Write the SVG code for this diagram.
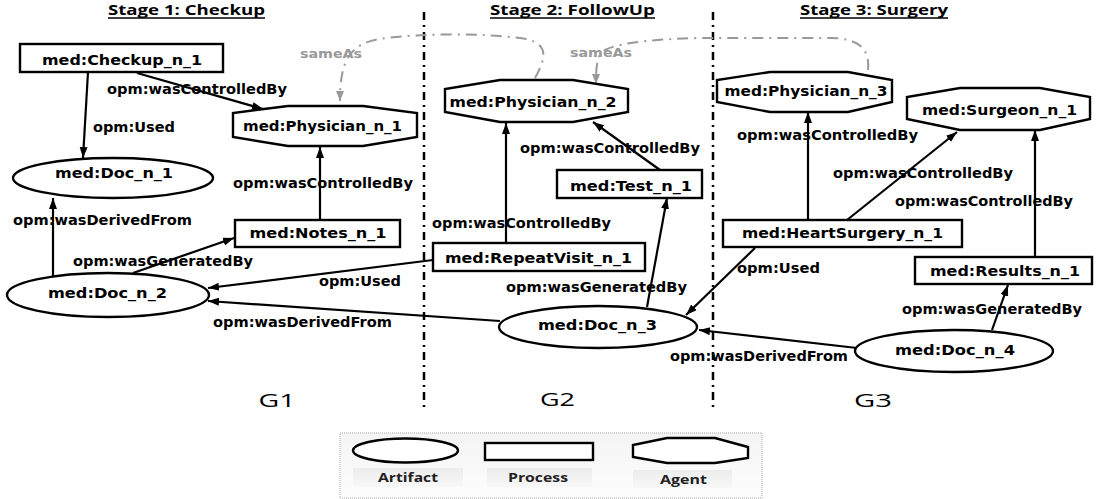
<svg xmlns="http://www.w3.org/2000/svg" width="1096" height="499" viewBox="0 0 1096 499">
<style>
.bg{fill:#ffffff}
.node{fill:#ffffff;stroke:#000;stroke-width:2.4}
.nl{font-family:"DejaVu Sans",Verdana,sans-serif;font-weight:bold;font-size:14.5px;fill:#000;text-anchor:middle}
.el{font-family:"DejaVu Sans",Verdana,sans-serif;font-weight:bold;font-size:13.5px;fill:#000;text-anchor:middle}
.sl{font-family:"DejaVu Sans",Verdana,sans-serif;font-weight:bold;font-size:13px;fill:#999;text-anchor:middle}
.tt{font-family:"Open Sans","Liberation Sans",sans-serif;font-weight:bold;font-size:15px;fill:#000;text-anchor:middle}
.gl{font-family:"Open Sans","Liberation Sans",sans-serif;font-size:19px;fill:#000;text-anchor:middle}
.lg{font-family:"Open Sans","Liberation Sans",sans-serif;font-weight:bold;font-size:13px;fill:#222;text-anchor:middle}
.edge{fill:none;stroke:#000;stroke-width:2.2;marker-end:url(#ah)}
.same{fill:none;stroke:#999;stroke-width:2;stroke-dasharray:11 6 2 6;marker-end:url(#gh)}
.div{stroke:#000;stroke-width:2.5;stroke-dasharray:8 5 2 5}
.ul{stroke:#000;stroke-width:1.3}
</style>
<defs>
<marker id="ah" markerUnits="userSpaceOnUse" markerWidth="12" markerHeight="10" refX="11" refY="4" orient="auto">
<path d="M0,0 L11,4 L0,8 z" fill="#000"/>
</marker>
<marker id="gh" markerUnits="userSpaceOnUse" markerWidth="12" markerHeight="10" refX="10" refY="4" orient="auto">
<path d="M0,0 L10,4 L0,8 z" fill="#999"/>
</marker>
<linearGradient id="lgbg" x1="0" y1="0" x2="0" y2="1">
<stop offset="0" stop-color="#f4f4f4"/>
<stop offset="1" stop-color="#fdfdfd"/>
</linearGradient>
<linearGradient id="lbbg" x1="0" y1="0" x2="0" y2="1">
<stop offset="0" stop-color="#ececec"/>
<stop offset="1" stop-color="#f8f8f8"/>
</linearGradient>
</defs>
<rect class="bg" x="0" y="0" width="1096" height="499"/>

<g id="titles">
<text class="tt" x="186.5" y="15" textLength="157" lengthAdjust="spacingAndGlyphs">Stage 1: Checkup</text>
<line class="ul" x1="108" y1="18" x2="265" y2="18"/>
<text class="tt" x="572.5" y="15" textLength="165" lengthAdjust="spacingAndGlyphs">Stage 2: FollowUp</text>
<line class="ul" x1="490" y1="18" x2="655" y2="18"/>
<text class="tt" x="874" y="15" textLength="148" lengthAdjust="spacingAndGlyphs">Stage 3: Surgery</text>
<line class="ul" x1="800" y1="18" x2="948" y2="18"/>
</g>

<g id="dividers">
<line class="div" x1="424" y1="12" x2="424" y2="407"/>
<line class="div" x1="713" y1="12" x2="713" y2="407"/>
</g>

<g id="connectors">
<line class="edge" x1="137" y1="73" x2="263" y2="109"/>
<line class="edge" x1="88" y1="72" x2="83" y2="158"/>
<line class="edge" x1="320" y1="220" x2="320" y2="147"/>
<line class="edge" x1="53" y1="277" x2="53" y2="198"/>
<line class="edge" x1="133" y1="273" x2="234" y2="238"/>
<line class="edge" x1="433" y1="260" x2="208" y2="288"/>
<line class="edge" x1="500" y1="321" x2="208" y2="301"/>
<line class="edge" x1="506" y1="243" x2="506" y2="123"/>
<line class="edge" x1="660" y1="170" x2="593" y2="122"/>
<line class="edge" x1="647" y1="307" x2="667" y2="198"/>
<line class="edge" x1="808" y1="220" x2="808" y2="112"/>
<line class="edge" x1="847" y1="220" x2="957" y2="132"/>
<line class="edge" x1="1035" y1="257" x2="1035" y2="130"/>
<line class="edge" x1="755" y1="248" x2="686" y2="315"/>
<line class="edge" x1="857" y1="348" x2="699" y2="330"/>
<line class="edge" x1="992" y1="330" x2="1008" y2="285"/>
<path class="same" d="M535,78 C545,60 552,42 520,38 C480,33 420,33 380,39 C350,44 340,60 340,101"/>
<path class="same" d="M868,70 C870,50 860,38 830,38 L700,38 C660,39 620,42 605,50 C597,55 596,65 596,84"/>
<text class="el" x="197" y="94" textLength="180" lengthAdjust="spacingAndGlyphs">opm:wasControlledBy</text>
<text class="el" x="134" y="132" textLength="82" lengthAdjust="spacingAndGlyphs">opm:Used</text>
<text class="el" x="323" y="188" textLength="180" lengthAdjust="spacingAndGlyphs">opm:wasControlledBy</text>
<text class="el" x="102.5" y="225" textLength="179" lengthAdjust="spacingAndGlyphs">opm:wasDerivedFrom</text>
<text class="el" x="163" y="266" textLength="180" lengthAdjust="spacingAndGlyphs">opm:wasGeneratedBy</text>
<text class="el" x="360" y="286" textLength="82" lengthAdjust="spacingAndGlyphs">opm:Used</text>
<text class="el" x="302.5" y="327" textLength="179" lengthAdjust="spacingAndGlyphs">opm:wasDerivedFrom</text>
<text class="el" x="521.5" y="228" textLength="179" lengthAdjust="spacingAndGlyphs">opm:wasControlledBy</text>
<text class="el" x="610" y="153" textLength="180" lengthAdjust="spacingAndGlyphs">opm:wasControlledBy</text>
<text class="el" x="596.5" y="292" textLength="181" lengthAdjust="spacingAndGlyphs">opm:wasGeneratedBy</text>
<text class="el" x="827.5" y="140" textLength="181" lengthAdjust="spacingAndGlyphs">opm:wasControlledBy</text>
<text class="el" x="923" y="178" textLength="180" lengthAdjust="spacingAndGlyphs">opm:wasControlledBy</text>
<text class="el" x="984" y="206" textLength="178" lengthAdjust="spacingAndGlyphs">opm:wasControlledBy</text>
<text class="el" x="778.5" y="273" textLength="83" lengthAdjust="spacingAndGlyphs">opm:Used</text>
<text class="el" x="992" y="314" textLength="180" lengthAdjust="spacingAndGlyphs">opm:wasGeneratedBy</text>
<text class="el" x="759" y="361" textLength="178" lengthAdjust="spacingAndGlyphs">opm:wasDerivedFrom</text>
<text class="sl" x="331" y="58" textLength="62" lengthAdjust="spacingAndGlyphs">sameAs</text>
<text class="sl" x="601" y="57" textLength="62" lengthAdjust="spacingAndGlyphs">sameAs</text>
</g>

<g id="n-checkup">
<rect class="node" x="20" y="44" width="203" height="28"/>
<text class="nl" x="122" y="65" textLength="160" lengthAdjust="spacingAndGlyphs">med:Checkup_n_1</text>
</g>
<g id="n-physician1">
<polygon class="node" points="288,106 363,106 417,113 417,137 363,146 288,146 233,137 233,113"/>
<text class="nl" x="322.5" y="131" textLength="159" lengthAdjust="spacingAndGlyphs">med:Physician_n_1</text>
</g>
<g id="n-doc1">
<ellipse class="node" cx="113" cy="178" rx="100" ry="20"/>
<text class="nl" x="114" y="178" textLength="118" lengthAdjust="spacingAndGlyphs">med:Doc_n_1</text>
</g>
<g id="n-doc2">
<ellipse class="node" cx="108" cy="295" rx="101" ry="22"/>
<text class="nl" x="107.5" y="298" textLength="119" lengthAdjust="spacingAndGlyphs">med:Doc_n_2</text>
</g>
<g id="n-notes">
<rect class="node" x="235" y="220" width="165" height="27"/>
<text class="nl" x="318" y="238" textLength="137" lengthAdjust="spacingAndGlyphs">med:Notes_n_1</text>
</g>
<g id="n-physician2">
<polygon class="node" points="500,80 573,80 628,89 628,112 573,122 500,122 445,112 445,89"/>
<text class="nl" x="533" y="107" textLength="167" lengthAdjust="spacingAndGlyphs">med:Physician_n_2</text>
</g>
<g id="n-test">
<rect class="node" x="557" y="170" width="145" height="28"/>
<text class="nl" x="631" y="191" textLength="122" lengthAdjust="spacingAndGlyphs">med:Test_n_1</text>
</g>
<g id="n-repeatvisit">
<rect class="node" x="433" y="243" width="212" height="28"/>
<text class="nl" x="538.5" y="263" textLength="187" lengthAdjust="spacingAndGlyphs">med:RepeatVisit_n_1</text>
</g>
<g id="n-doc3">
<ellipse class="node" cx="598" cy="327" rx="99" ry="21"/>
<text class="nl" x="597.5" y="330" textLength="119" lengthAdjust="spacingAndGlyphs">med:Doc_n_3</text>
</g>
<g id="n-physician3">
<polygon class="node" points="770,72 848,72 892,80 892,102 848,112 770,112 717,102 717,80"/>
<text class="nl" x="806" y="96" textLength="163" lengthAdjust="spacingAndGlyphs">med:Physician_n_3</text>
</g>
<g id="n-surgeon">
<polygon class="node" points="960,88 1040,88 1090,97 1090,119 1040,130 960,130 907,119 907,97"/>
<text class="nl" x="999.5" y="115" textLength="155" lengthAdjust="spacingAndGlyphs">med:Surgeon_n_1</text>
</g>
<g id="n-heartsurgery">
<rect class="node" x="723" y="220" width="239" height="27"/>
<text class="nl" x="842.5" y="238" textLength="201" lengthAdjust="spacingAndGlyphs">med:HeartSurgery_n_1</text>
</g>
<g id="n-results">
<rect class="node" x="915" y="257" width="177" height="27"/>
<text class="nl" x="1005" y="276" textLength="150" lengthAdjust="spacingAndGlyphs">med:Results_n_1</text>
</g>
<g id="n-doc4">
<ellipse class="node" cx="954" cy="351" rx="99" ry="21"/>
<text class="nl" x="955" y="355" textLength="120" lengthAdjust="spacingAndGlyphs">med:Doc_n_4</text>
</g>

<g id="graph-labels">
<text class="gl" x="277" y="407" textLength="37" lengthAdjust="spacingAndGlyphs">G1</text>
<text class="gl" x="557.5" y="406" textLength="35" lengthAdjust="spacingAndGlyphs">G2</text>
<text class="gl" x="873" y="407" textLength="38" lengthAdjust="spacingAndGlyphs">G3</text>
</g>

<g id="legend">
<rect x="340" y="433" width="422" height="65" fill="url(#lgbg)" stroke="#aaa" stroke-width="1" stroke-dasharray="1 1"/>
<ellipse class="node" cx="405.5" cy="450.5" rx="52.5" ry="12" stroke-width="2"/>
<rect class="node" x="485" y="443" width="108" height="17" stroke-width="2"/>
<polygon class="node" points="667,438 715,438 748,447 748,458 715,463 667,463 633,457 633,445" stroke-width="2"/>
<rect x="353" y="468" width="110" height="19" fill="url(#lbbg)"/>
<rect x="487" y="468" width="105" height="19" fill="url(#lbbg)"/>
<rect x="633" y="470" width="99" height="18" fill="url(#lbbg)"/>
<text class="lg" x="408" y="482" textLength="60" lengthAdjust="spacingAndGlyphs">Artifact</text>
<text class="lg" x="538" y="482" textLength="60" lengthAdjust="spacingAndGlyphs">Process</text>
<text class="lg" x="683.5" y="484" textLength="47" lengthAdjust="spacingAndGlyphs">Agent</text>
</g>
</svg>
